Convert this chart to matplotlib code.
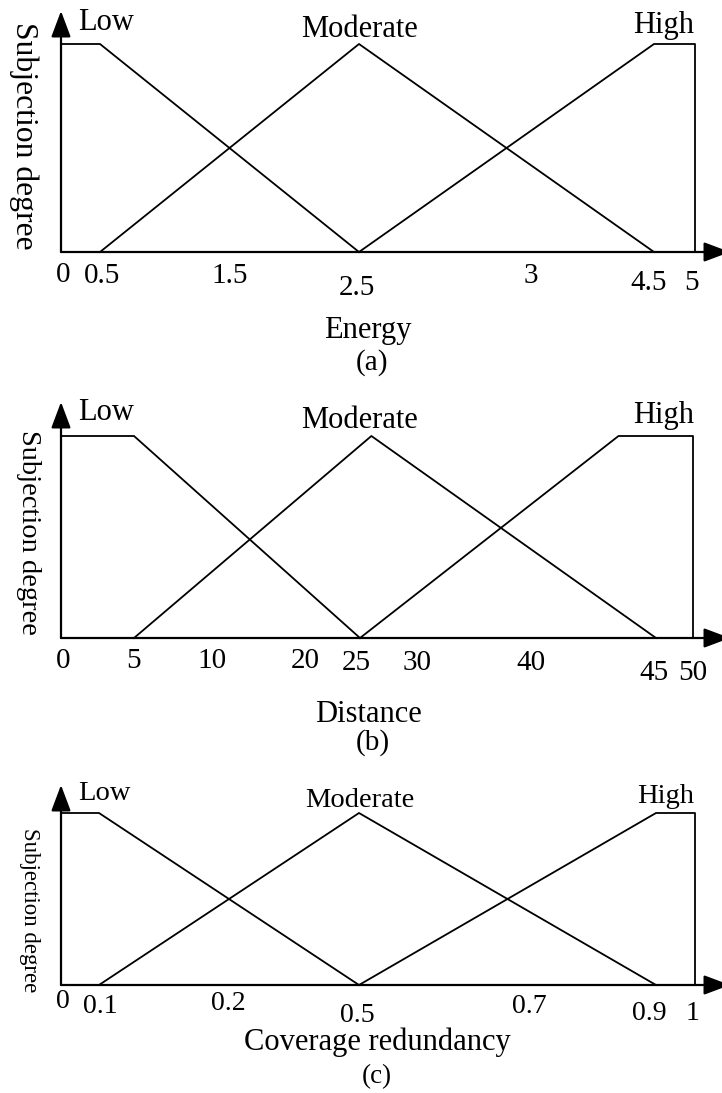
import numpy as np
import matplotlib.pyplot as plt
from matplotlib.transforms import offset_copy

plt.rcParams['font.family'] = ['Liberation Serif', 'DejaVu Serif']

# ---- data ----
set_names = ["Low", "Moderate", "High"]

# (a) Energy
energy_ticks = [0, 0.5, 1.5, 2.5, 3, 4.5, 5]
energy_labels = ["0", "0.5", "1.5", "2.5", "3", "4.5", "5"]
energy_low_x = [0, 0.5, 2.5]
energy_low_y = [1, 1, 0]
energy_mod_x = [0.5, 2.5, 4.5]
energy_mod_y = [0, 1, 0]
energy_high_x = [2.5, 4.5, 5, 5]
energy_high_y = [0, 1, 1, 0]

# (b) Distance
dist_ticks = [0, 5, 10, 20, 25, 30, 40, 45, 50]
dist_labels = ["0", "5", "10", "20", "25", "30", "40", "45", "50"]
dist_low_x = [0, 5, 25]
dist_low_y = [1, 1, 0]
dist_mod_x = [5, 26, 45]
dist_mod_y = [0, 1, 0]
dist_high_x = [25, 43.5, 50, 50]
dist_high_y = [0, 1, 1, 0]

# (c) Coverage redundancy
cov_ticks = [0, 0.1, 0.2, 0.5, 0.7, 0.9, 1]
cov_labels = ["0", "0.1", "0.2", "0.5", "0.7", "0.9", "1"]
cov_low_x = [0, 0.1, 0.5]
cov_low_y = [1, 1, 0]
cov_mod_x = [0.1, 0.5, 0.9]
cov_mod_y = [0, 1, 0]
cov_high_x = [0.5, 0.9, 1, 1]
cov_high_y = [0, 1, 1, 0]

# ---- layout (pixels) ----
W, H = 722, 1093
AX_LEFT, AX_RIGHT = 61, 730

panels = [
    dict(ticks=energy_ticks, labels=energy_labels,
         sets=[(energy_low_x, energy_low_y), (energy_mod_x, energy_mod_y), (energy_high_x, energy_high_y)],
         xlabel="Energy", caption="(a)",
         tick_px=[61, 100, 230, 359, 531, 654, 695],
         tick_dx=[2, 2, 0, -2, 0, -5, -4],
         tick_drop=[30, 31, 31, 43, 31, 38, 38],
         base=252, plateau=44, tip=11,
         names_y=[30, 37, 33], xlabel_xy=(368, 338), caption_xy=(372, 370),
         ylabel_xy=(24, 136), fs=22, xl_fs=22, tick_fs=21, ylabel_fs=22.8),
    dict(ticks=dist_ticks, labels=dist_labels,
         sets=[(dist_low_x, dist_low_y), (dist_mod_x, dist_mod_y), (dist_high_x, dist_high_y)],
         xlabel="Distance", caption="(b)",
         tick_px=[61, 134, 212, 305, 360, 417, 531, 656, 693],
         tick_dx=[2, 0, 0, 0, -4, 0, 0, -2, 0],
         tick_drop=[30, 30, 30, 30, 32, 32, 32, 42, 42],
         base=638, plateau=436, tip=402,
         names_y=[420, 428, 423], xlabel_xy=(368, 722), caption_xy=(373, 750),
         ylabel_xy=(28, 532), fs=22, xl_fs=22, tick_fs=21, ylabel_fs=20.5),
    dict(ticks=cov_ticks, labels=cov_labels,
         sets=[(cov_low_x, cov_low_y), (cov_mod_x, cov_mod_y), (cov_high_x, cov_high_y)],
         xlabel="Coverage redundancy", caption="(c)",
         tick_px=[61, 99, 228, 359, 529, 656, 695],
         tick_dx=[2, 1, 0, -2, 0, -7, -2],
         tick_drop=[23, 28, 25, 37, 28, 35, 35],
         base=985, plateau=813, tip=785,
         names_y=[800, 807, 803], xlabel_xy=(377, 1050), caption_xy=(377, 1083),
         ylabel_xy=(29, 910), fs=20.5, xl_fs=22, tick_fs=20, ylabel_fs=16.5),
]

fig = plt.figure(figsize=(W / 100, H / 100), dpi=100)


def ftext(x, y, s, **kw):
    fig.text(x / W, 1 - y / H, s, **kw)


for p in panels:
    vals = list(p["ticks"])
    pos = list(p["tick_px"])
    # extend the last segment out to the arrow tip
    xend = vals[-1] + (AX_RIGHT - pos[-1]) * (vals[-1] - vals[-2]) / (pos[-1] - pos[-2])
    vals_ext = np.array(vals + [xend], float)
    pos_ext = np.array(pos + [AX_RIGHT], float)

    def fwd(v, vals_ext=vals_ext, pos_ext=pos_ext):
        return np.interp(v, vals_ext, pos_ext)

    def inv(q, vals_ext=vals_ext, pos_ext=pos_ext):
        return np.interp(q, pos_ext, vals_ext)

    ax = fig.add_axes([AX_LEFT / W, 1 - p["base"] / H,
                       (AX_RIGHT - AX_LEFT) / W, (p["base"] - p["tip"]) / H])
    ax.set_xscale("function", functions=(fwd, inv))
    ax.set_xlim(0, xend)
    ax.set_ylim(0, (p["base"] - p["tip"]) / (p["base"] - p["plateau"]))
    ax.axis("off")

    # axes with arrow heads
    arrow = dict(arrowstyle="-|>,head_length=0.8,head_width=0.3", lw=1.6,
                 color="black", shrinkA=0, shrinkB=0, mutation_scale=20)
    ax.annotate("", xy=(0, 1), xytext=(0, 0), xycoords="axes fraction", arrowprops=arrow)
    ax.annotate("", xy=(1, 0), xytext=(0, 0), xycoords="axes fraction", arrowprops=arrow)

    for xs, ys in p["sets"]:
        ax.plot(xs, ys, color="black", lw=1.3, clip_on=False)

    for v, lab, dx, drop in zip(p["ticks"], p["labels"], p["tick_dx"], p["tick_drop"]):
        tr = offset_copy(ax.get_xaxis_transform(), fig=fig, x=dx, y=-drop, units="dots")
        ax.text(v, 0, lab, transform=tr, ha="center", va="baseline", fontsize=p["tick_fs"])

    ftext(78, p["names_y"][0], set_names[0], ha="left", va="baseline", fontsize=p["fs"])
    ftext(360, p["names_y"][1], set_names[1], ha="center", va="baseline", fontsize=p["fs"])
    ftext(694, p["names_y"][2], set_names[2], ha="right", va="baseline", fontsize=p["fs"])

    ftext(*p["xlabel_xy"], p["xlabel"], ha="center", va="baseline", fontsize=p["xl_fs"])
    ftext(*p["caption_xy"], p["caption"], ha="center", va="baseline", fontsize=p["fs"] - 1)
    ftext(*p["ylabel_xy"], "Subjection degree", rotation=270, ha="center", va="center",
          fontsize=p["ylabel_fs"])

fig.savefig("out.png", dpi=100)
